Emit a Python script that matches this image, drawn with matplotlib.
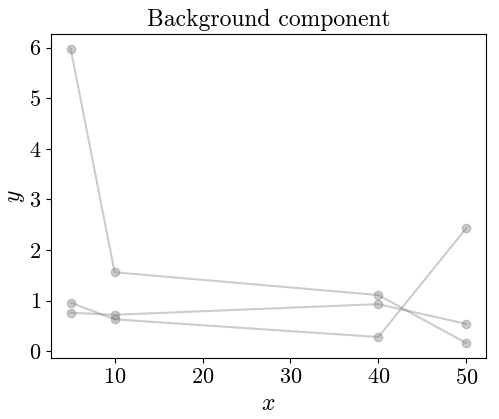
import matplotlib
matplotlib.use("Agg")
import matplotlib.pyplot as plt

# Computer Modern look, like the LaTeX-rendered original
plt.rcParams['font.family'] = 'serif'
plt.rcParams['font.serif'] = ['cmr10']
plt.rcParams['mathtext.fontset'] = 'cm'
plt.rcParams['axes.formatter.use_mathtext'] = True

x = [5, 10, 40, 50]
series_a = [5.98, 1.56, 1.11, 0.16]
series_b = [0.96, 0.63, 0.28, 2.43]
series_c = [0.76, 0.72, 0.93, 0.54]

fig, ax = plt.subplots(figsize=(4.99, 4.19), dpi=100)

for ys in (series_a, series_b, series_c):
    ax.plot(x, ys, color='gray', alpha=0.4, marker='o', markersize=6, linewidth=1.5)

ax.set_title('Background component', fontsize=17)
ax.set_xlabel('$x$', fontsize=17)
ax.set_ylabel('$y$', fontsize=17, labelpad=1.5)
ax.tick_params(labelsize=16)
ax.set_xticks([10, 20, 30, 40, 50])

fig.subplots_adjust(left=0.102, right=0.974, top=0.919, bottom=0.146)
fig.savefig('out.png', dpi=100)
